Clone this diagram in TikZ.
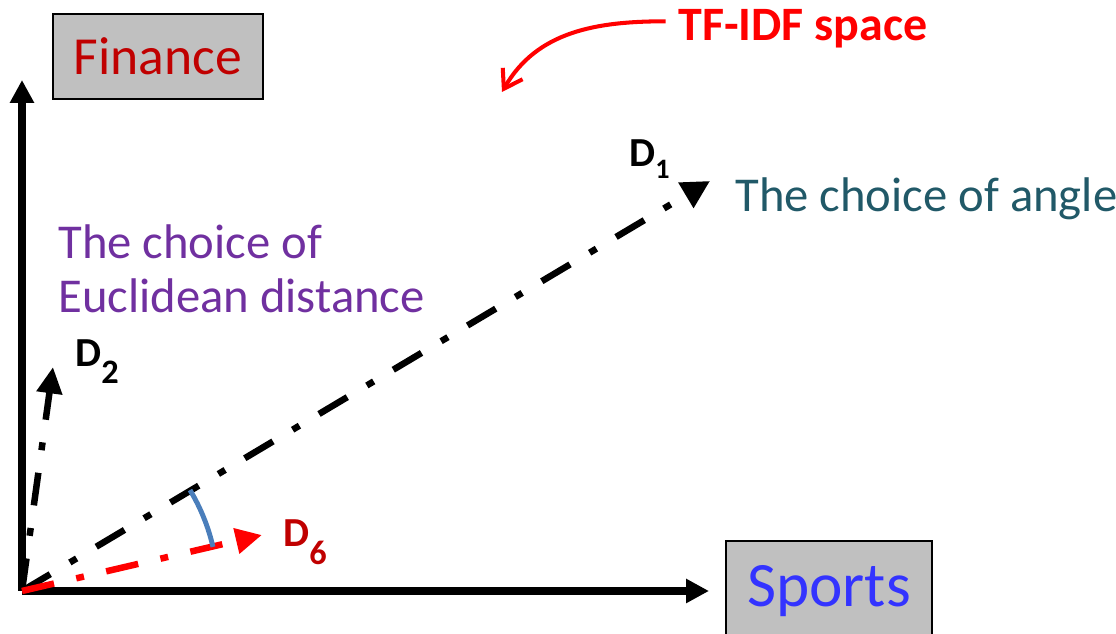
\documentclass[tikz,border=0pt]{standalone}
\usepackage{fontspec}
\setmainfont{Carlito}
\usetikzlibrary{arrows.meta, positioning}

\definecolor{darkred}{HTML}{C00000}
\definecolor{sportsblue}{HTML}{3333FF}
\definecolor{angleteal}{HTML}{215968}
\definecolor{distpurple}{HTML}{7030A0}
\definecolor{arcblue}{HTML}{4A7EBB}
\definecolor{boxgray}{HTML}{C0C0C0}

\newcommand{\docsub}[3]{\raisebox{-#2}{\fontsize{#1}{#1}\selectfont #3}}

\begin{document}
\begin{tikzpicture}[
    x=0.02cm, y=0.02cm,
    axisbox/.style={rectangle, draw, line width=0.8pt, fill=boxgray,
                    minimum width=4.2cm, minimum height=1.7cm,
                    font=\fontsize{30.5}{34}\selectfont},
    axis/.style={line width=4.4pt, -{Triangle[length=13pt, width=13pt]}},
    doc/.style={line width=3.7pt, dash pattern=on 18.7pt off 13pt on 4.5pt off 13pt,
                -{Triangle[length=15pt, width=14pt]}},
    doclabel/.style={anchor=base west, inner sep=0pt, font=\bfseries\fontsize{23.5}{26}\selectfont},
    note/.style={anchor=base west, inner sep=0pt, align=left, font=\fontsize{27.7}{31.2}\selectfont},
    pointer/.style={red, line width=2.3pt, -{Straight Barb[length=10pt, width=13pt]}},
    anglearc/.style={arcblue, line width=2.8pt}
]
\clip (0,0) rectangle (1116,634);

\coordinate (origin) at (22,43);
\coordinate (ytip)   at (22,554);
\coordinate (xtip)   at (709,43);
\coordinate (d1tip)  at (710,453);
\coordinate (d2tip)  at (53,267);
\coordinate (d6tip)  at (262,99);
\coordinate (spacetip) at (502,542);

\node[axisbox, text=darkred] (finance) at (158,577.5) {Finance};
\node[axisbox, text=sportsblue, minimum width=4.12cm, minimum height=2cm,
      font=\fontsize{36}{40}\selectfont] (sports) at (829,43) {Sports};

\node[inner sep=0pt, anchor=base west, red, font=\bfseries\fontsize{27.3}{30}\selectfont] (tfidf) at (678,593) {TF-IDF space};
\node[note, text=angleteal] (angle) at (735,422) {The choice of angle};
\node[note, text=distpurple] (euclid) at (58,321) {The choice of\\Euclidean distance};

\draw[axis] (origin) -- (ytip);
\draw[axis] (origin) -- (xtip);
\draw[doc, -{Triangle[length=16pt, width=16pt]}] (origin) -- (d1tip);
\draw[doc] (origin) -- (d2tip);
\draw[doc, red] (origin) -- (d6tip);
\draw[anglearc] (origin) ++(31:196) arc[start angle=31, end angle=13, radius=196];

\node[doclabel] (d1) at (629,467) {D\docsub{16}{6.5pt}{1}};
\node[doclabel] (d2) at (75,267) {D\docsub{19.5}{9.6pt}{2}};
\node[doclabel, text=darkred] (d6) at (283,87) {D\docsub{19.5}{10pt}{6}};

\draw[pointer] ([xshift=-7pt, yshift=4.5pt]tfidf.west) to[out=180, in=60] (spacetip);
\end{tikzpicture}
\end{document}
